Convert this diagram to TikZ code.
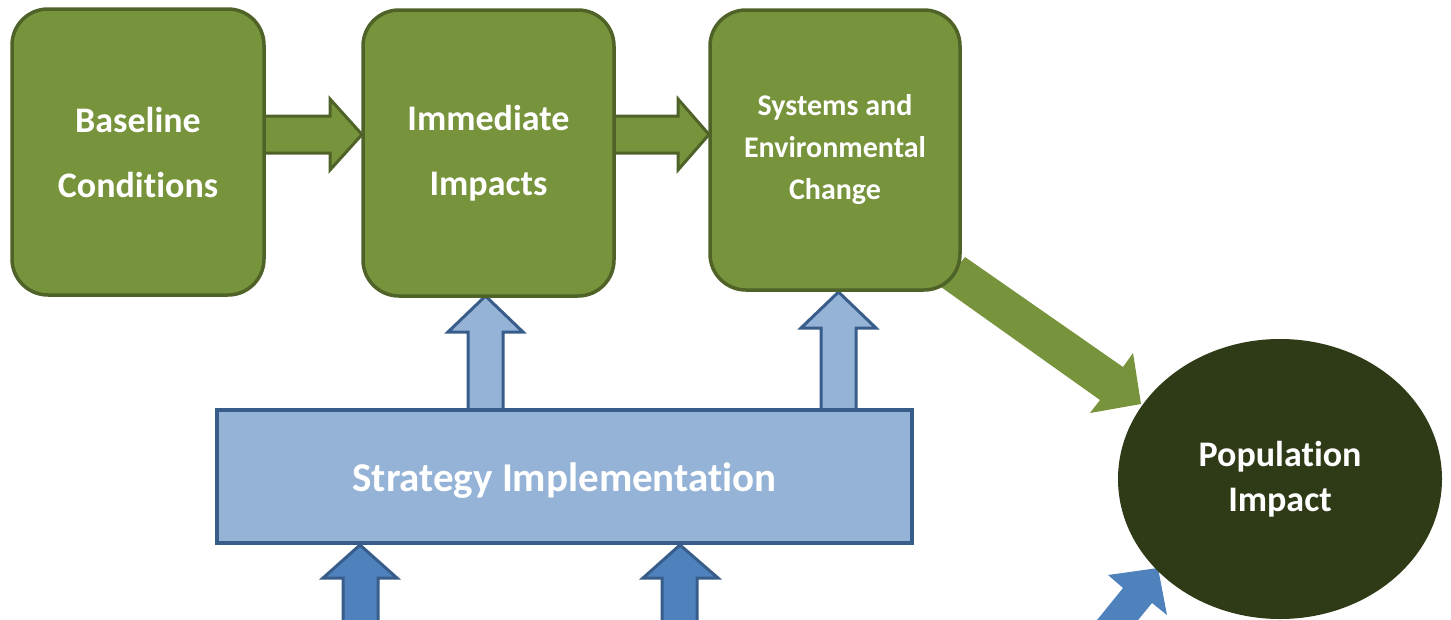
\documentclass[tikz,border=0pt]{standalone}
\usepackage{fontspec}
\setmainfont{Carlito}[Ligatures={NoCommon,NoRequired,NoContextual}]
\usetikzlibrary{shapes.geometric,backgrounds}
\definecolor{gfill}{HTML}{77933C}
\definecolor{gline}{HTML}{4F6228}
\definecolor{dkolive}{HTML}{2F3A17}
\definecolor{lblue}{HTML}{95B3D7}
\definecolor{mblue}{HTML}{4F81BD}
\definecolor{bline}{HTML}{385D8A}
\tikzset{
  gbox/.style={draw=gline, fill=gfill, line width=3.5pt, rounded corners=36pt, inner sep=0pt, align=center, text=white, font=\fontsize{36}{65}\selectfont\bfseries},
  sbox/.style={draw=bline, fill=lblue, line width=3.5pt, inner sep=0pt, align=center, text=white, font=\fontsize{41}{48}\selectfont\bfseries},
  pop/.style={ellipse, fill=dkolive, inner sep=0pt, align=center, text=white, font=\fontsize{36}{45}\selectfont\bfseries},
  garrow/.style={draw=gline, fill=gfill, line width=3pt, line join=miter},
  larrow/.style={draw=bline, fill=lblue, line width=3pt, line join=miter},
  darrow/.style={draw=bline, fill=mblue, line width=3pt, line join=miter},
  plaing/.style={fill=gfill},
  plainb/.style={fill=mblue}
}
\begin{document}
\begin{tikzpicture}[x=1pt,y=-1pt]
\useasboundingbox (0,0) rectangle (1451,619);
\clip (0,0) rectangle (1451,619);
\node[gbox, minimum width=252pt, minimum height=286pt] (base) at (138,152) {Baseline\\Conditions};
\node[gbox, minimum width=251pt, minimum height=286pt] (imm) at (488.5,153) {Immediate\\Impacts};
\node[gbox, minimum width=250pt, minimum height=280pt, font=\fontsize{30}{42}\selectfont\bfseries] (sys) at (835,150) {Systems and\\Environmental\\Change};
\node[sbox, minimum width=695pt, minimum height=133pt] (strat) at (564.5,476.5) {\raisebox{-14.5pt}[0pt][0pt]{Strategy Implementation}};
\node[pop, minimum width=324pt, minimum height=280pt] (popi) at (1280,479) {Population\\Impact};
\begin{scope}[on background layer]
  % base -> imm
  \draw[garrow] (262,116) -- (330,116) -- (330,99) -- (362,134.5) -- (330,170) -- (330,153) -- (262,153) -- cycle;
  % imm -> sys
  \draw[garrow] (612,116) -- (678,116) -- (678,99) -- (709,134.5) -- (678,170) -- (678,153) -- (612,153) -- cycle;
  % strat -> imm
  \draw[larrow] (468,412) -- (468,332) -- (448,332) -- (485.5,296) -- (523,332) -- (503,332) -- (503,412) -- cycle;
  % strat -> sys
  \draw[larrow] (821,412) -- (821,328) -- (801,328) -- (838.5,292) -- (876,328) -- (856,328) -- (856,412) -- cycle;
  % bottom -> strat
  \draw[darrow] (343,625) -- (343,578) -- (323,578) -- (360,545) -- (397,578) -- (378,578) -- (378,625) -- cycle;
  \draw[darrow] (662,625) -- (662,578) -- (643,578) -- (680,545) -- (718,578) -- (697,578) -- (697,625) -- cycle;
  % sys -> pop
  \fill[plaing] (965,257) -- (1123,367) -- (1133,353) -- (1141,404) -- (1090,413) -- (1100,400) -- (941,287) -- cycle;
  % bottom -> pop
  \fill[plainb] (1093,625) -- (1123,588) -- (1108,575) -- (1158,568) -- (1167,615) -- (1152,603) -- (1134,625) -- cycle;
\end{scope}
\end{tikzpicture}
\end{document}
